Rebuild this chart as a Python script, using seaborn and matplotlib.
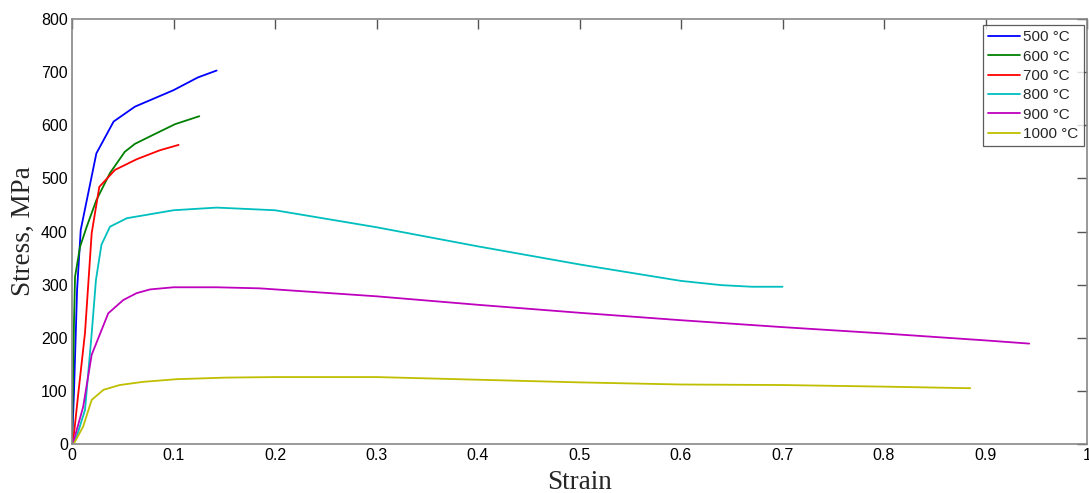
import numpy as np
import pandas as pd
import matplotlib
matplotlib.use("Agg")
import matplotlib.pyplot as plt
import seaborn as sns

# ---- data ----
labels = ["500 °C", "600 °C", "700 °C", "800 °C", "900 °C", "1000 °C"]

strain_500 = [0, 0.002, 0.005, 0.0086, 0.024, 0.041, 0.062, 0.100, 0.124, 0.1425]
stress_500 = [0, 100, 290, 403, 547, 607, 635, 666, 690, 703]

strain_600 = [0, 0.001, 0.002, 0.003, 0.0079, 0.0145, 0.024, 0.0374, 0.052, 0.062, 0.080, 0.1015, 0.1254]
stress_600 = [0, 120, 233, 315, 371, 409, 459, 510, 550, 565, 582, 602, 617]

strain_700 = [0, 0.002, 0.0062, 0.0128, 0.0194, 0.0269, 0.0424, 0.0637, 0.0867, 0.105]
stress_700 = [0, 20, 95, 209, 397, 484, 516, 536, 553, 563]

strain_800 = [0, 0.0046, 0.0128, 0.0194, 0.0236, 0.029, 0.0374, 0.054, 0.100, 0.1425,
              0.20, 0.30, 0.40, 0.50, 0.60, 0.64, 0.67, 0.70]
stress_800 = [0, 14, 64, 208, 309, 375, 409, 425, 440, 445,
              440, 408, 372, 338, 307, 299, 296, 296]

strain_900 = [0, 0.002, 0.011, 0.0194, 0.0357, 0.0505, 0.0637, 0.077, 0.100, 0.1425,
              0.185, 0.30, 0.40, 0.50, 0.60, 0.70, 0.80, 0.90, 0.943]
stress_900 = [0, 8, 70, 168, 246, 271, 284, 291, 295, 295,
              293, 278, 262, 247, 233, 220, 208, 195, 189]

strain_1000 = [0, 0.002, 0.011, 0.0194, 0.031, 0.047, 0.070, 0.103, 0.152, 0.20,
               0.30, 0.40, 0.50, 0.60, 0.70, 0.80, 0.885]
stress_1000 = [0, 1, 33, 83, 102, 111, 117, 122, 125, 126,
               126, 121, 116, 112, 111, 108, 105]

series = [(strain_500, stress_500), (strain_600, stress_600), (strain_700, stress_700),
          (strain_800, stress_800), (strain_900, stress_900), (strain_1000, stress_1000)]

x_ticks = [0, 0.1, 0.2, 0.3, 0.4, 0.5, 0.6, 0.7, 0.8, 0.9, 1]
x_ticklabels = ["0", "0.1", "0.2", "0.3", "0.4", "0.5", "0.6", "0.7", "0.8", "0.9", "1"]
y_ticks = [0, 100, 200, 300, 400, 500, 600, 700, 800]

rows = []
for lab, (xs, ys) in zip(labels, series):
    for i, (x, y) in enumerate(zip(xs, ys)):
        rows.append({"Temperature": lab, "order": i, "Strain": x, "Stress": y})
df = pd.DataFrame(rows)

colors = {"500 °C": (0, 0, 1), "600 °C": (0, 0.5, 0), "700 °C": (1, 0, 0),
          "800 °C": (0, 0.75, 0.75), "900 °C": (0.75, 0, 0.75), "1000 °C": (0.75, 0.75, 0)}

sns.set_style("white")
plt.rcParams["font.family"] = ["Liberation Sans", "DejaVu Sans"]

fig = plt.figure(figsize=(10.89, 4.93), dpi=100)
ax = fig.add_axes([72 / 1089, 1 - 444 / 493, (1087 - 72) / 1089, (444 - 19) / 493])

sns.lineplot(data=df, x="Strain", y="Stress", hue="Temperature", hue_order=labels,
             palette=colors, sort=False, estimator=None, units="Temperature",
             linewidth=1.3, ax=ax, legend=True)

ax.set_xlim(0, 1)
ax.set_ylim(0, 800)
ax.set_xticks(x_ticks)
ax.set_xticklabels(x_ticklabels, fontsize=11.5)
ax.set_yticks(y_ticks)
ax.set_yticklabels([str(v) for v in y_ticks], fontsize=11.5)
ax.tick_params(direction="in", length=7, width=1, colors="#555555",
               top=True, right=True, labelcolor="black", pad=3)
for s in ax.spines.values():
    s.set_visible(True)
    s.set_color("#888888")
    s.set_linewidth(1.2)

ax.set_xlabel("Strain", fontfamily="Liberation Serif", fontsize=19.5, labelpad=5)
ax.set_ylabel("Stress, MPa", fontfamily="Liberation Serif", fontsize=19.5, labelpad=4)

leg = ax.legend(loc="upper right", bbox_to_anchor=(0.997, 0.986), fontsize=11,
                frameon=True, fancybox=False, edgecolor="#333333", handlelength=2.1,
                handletextpad=0.2, labelspacing=0.35, borderpad=0.35, borderaxespad=0)
leg.get_frame().set_linewidth(0.9)

fig.savefig("out.png", dpi=100)
